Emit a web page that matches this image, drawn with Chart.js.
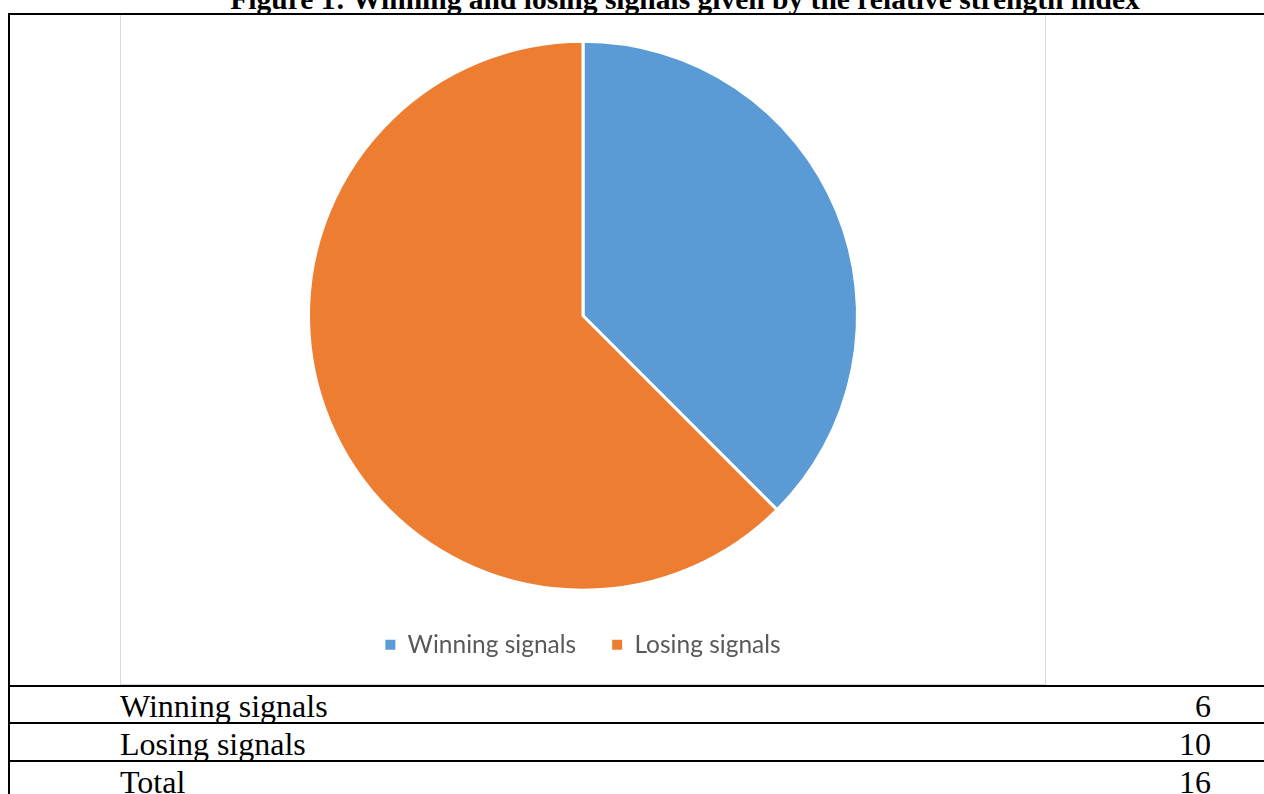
<!DOCTYPE html>
<html>
<head>
<meta charset="utf-8">
<script src="https://cdn.jsdelivr.net/npm/chart.js@4"></script>
<style>
  body { margin: 0; background: #fff; overflow: hidden; width: 1264px; height: 794px; position: relative; }
  .title { position: absolute; left: 0; width: 1370px; top: -17px; text-align: center;
           font: bold 29.5px "Liberation Serif", "Times New Roman", serif; color: #000; white-space: nowrap; }
  .hline { position: absolute; left: 8px; right: 0; height: 2px; background: #000; }
  .vline { position: absolute; left: 8px; top: 14px; bottom: 0; width: 2px; background: #000; }
  .box { position: absolute; left: 120px; top: 15px; width: 926px; height: 670px; border: 1px solid #d9d9d9; border-top: none; box-sizing: border-box; }
  .cell { position: absolute; font: 32px "Liberation Serif", "Times New Roman", serif; color: #000; line-height: 36px; }
  .num { text-align: right; width: 200px; }
  #wrap { position: absolute; left: 121px; top: 15px; width: 924px; height: 670px; }
</style>
</head>
<body>
<div class="title">Figure 1:  Winning and losing signals given by the relative strength index</div>
<div class="hline" style="top:13px"></div>
<div class="vline"></div>
<div class="box"></div>
<div id="wrap"><canvas id="pie"></canvas></div>
<div class="hline" style="top:685px"></div>
<div class="hline" style="top:722px"></div>
<div class="hline" style="top:760px"></div>
<div id="rows"></div>
<script>
const labels = ["Winning signals", "Losing signals"];
const values = [6, 10];
const colors = ["#5B9BD5", "#ED7D31"];
const tableRows = ["Winning signals", "Losing signals", "Total"];
const tableValues = [6, 10, 16];

const rowTops = [688, 726, 764];
const rowsDiv = document.getElementById("rows");
tableRows.forEach((name, i) => {
  const a = document.createElement("div");
  a.className = "cell";
  a.style.left = "120px";
  a.style.top = rowTops[i] + "px";
  a.textContent = name;
  rowsDiv.appendChild(a);
  const b = document.createElement("div");
  b.className = "cell num";
  b.style.left = "1011px";
  b.style.top = rowTops[i] + "px";
  b.textContent = tableValues[i];
  rowsDiv.appendChild(b);
});

new Chart(document.getElementById("pie"), {
  type: "pie",
  data: {
    labels: labels,
    datasets: [{
      data: values,
      backgroundColor: colors,
      borderColor: "#fff",
      borderWidth: 3,
      radius: 274.5
    }]
  },
  options: {
    responsive: true,
    maintainAspectRatio: false,
    animation: false,
    layout: { padding: { top: 20, bottom: 18 } },
    plugins: {
      tooltip: { enabled: false },
      legend: {
        position: "bottom",
        labels: {
          color: "#595959",
          boxWidth: 10,
          boxHeight: 10,
          padding: 36,
          font: { family: "Lato, 'Open Sans', sans-serif", size: 24.5 },
          generateLabels: chart => Chart.overrides.pie.plugins.legend.labels.generateLabels(chart)
            .map(item => Object.assign(item, { lineWidth: 0, strokeStyle: item.fillStyle }))
        }
      }
    }
  }
});
</script>
</body>
</html>
